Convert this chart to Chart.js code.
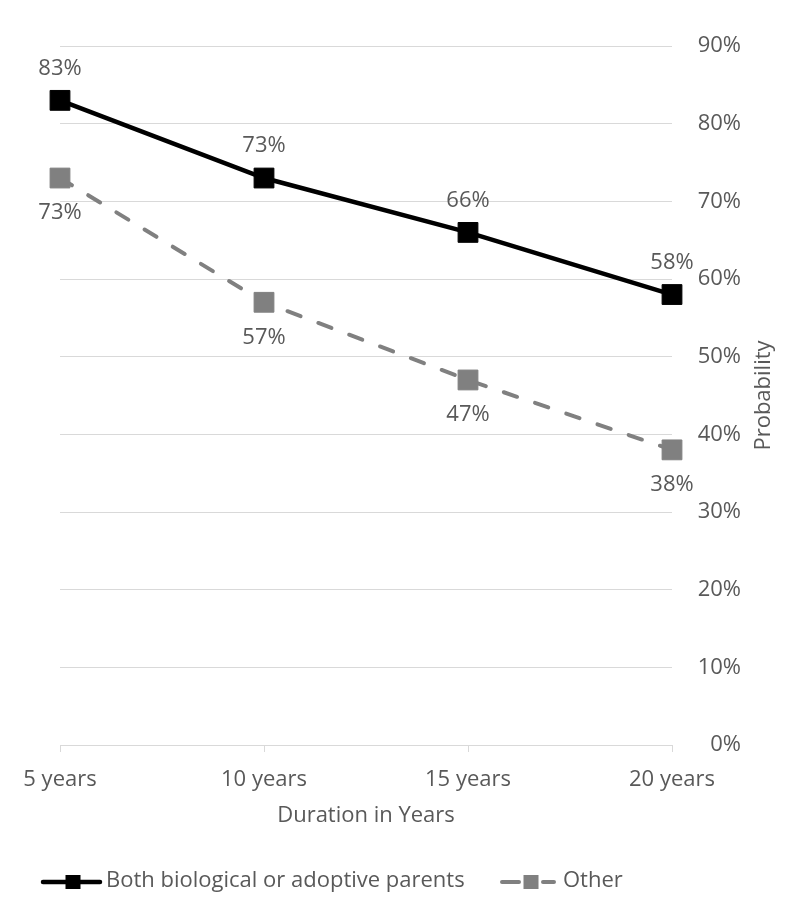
<!DOCTYPE html>
<html>
<head>
<meta charset="utf-8">
<script src="https://cdn.jsdelivr.net/npm/chart.js@4.4.1/dist/chart.umd.min.js"></script>
<style>
  html, body { margin: 0; padding: 0; background: #ffffff; }
  #wrap { width: 804px; height: 901px; }
</style>
</head>
<body>
<div id="wrap"><canvas id="c" width="804" height="901"></canvas></div>
<script>
// ---- data ----
const categories = ["5 years", "10 years", "15 years", "20 years"];
const bothParents = [83, 73, 66, 58];
const otherFamily = [73, 57, 47, 38];
const seriesNames = ["Both biological or adoptive parents", "Other"];
const yTickMax = 90;
const yTickStep = 10;
const xTitle = "Duration in Years";
const yTitle = "Probability";

const TEXT = "#595959";
const GRID = "#d9d9d9";
const FONT = "'Open Sans', 'Liberation Sans', sans-serif";
const FS = 22;

Chart.defaults.font.family = FONT;
Chart.defaults.font.size = FS;
Chart.defaults.color = TEXT;

const dataLabelPlugin = {
  id: 'pointLabels',
  afterDatasetsDraw(chart) {
    const ctx = chart.ctx;
    ctx.save();
    ctx.font = FS + "px " + FONT;
    ctx.fillStyle = TEXT;
    ctx.textAlign = 'center';
    ctx.textBaseline = 'middle';
    chart.data.datasets.forEach((ds, i) => {
      const meta = chart.getDatasetMeta(i);
      meta.data.forEach((pt, j) => {
        const off = ds.labelSide === 'above' ? -32 : 35;
        ctx.fillText(ds.data[j] + '%', pt.x, pt.y + off);
      });
    });
    ctx.restore();
  }
};

const extrasPlugin = {
  id: 'extras',
  afterDraw(chart) {
    const ctx = chart.ctx;
    const area = chart.chartArea;
    ctx.save();
    // rotated y title (bottom-to-top)
    ctx.font = FS + "px " + FONT;
    ctx.fillStyle = TEXT;
    ctx.translate(764, (area.top + area.bottom) / 2);
    ctx.rotate(-Math.PI / 2);
    ctx.textAlign = 'center';
    ctx.textBaseline = 'middle';
    ctx.fillText(yTitle, 0, 0);
    ctx.restore();

    // legend
    const items = [
      { x0: 43, x1: 100, mx: 73, tx: 106 },
      { x0: 502, x1: 554, mx: 531, tx: 563 }
    ];
    const ly = 882;
    chart.data.datasets.forEach((ds, i) => {
      const it = items[i];
      ctx.save();
      ctx.strokeStyle = ds.borderColor;
      ctx.lineWidth = ds.borderWidth;
      ctx.lineCap = 'round';
      ctx.beginPath();
      if (ds.borderDash && ds.borderDash.length) {
        ctx.moveTo(it.x0, ly); ctx.lineTo(it.mx - 12, ly);
        ctx.moveTo(it.mx + 12, ly); ctx.lineTo(it.x1, ly);
      } else {
        ctx.moveTo(it.x0, ly); ctx.lineTo(it.x1, ly);
      }
      ctx.stroke();
      ctx.fillStyle = ds.pointBackgroundColor;
      ctx.fillRect(it.mx - 7.5, ly - 7, 15, 14);
      ctx.font = FS + "px " + FONT;
      ctx.fillStyle = TEXT;
      ctx.textAlign = 'left';
      ctx.textBaseline = 'middle';
      ctx.fillText(seriesNames[i], it.tx, ly - 1);
      ctx.restore();
    });
  }
};

new Chart(document.getElementById('c'), {
  type: 'line',
  data: {
    labels: categories,
    datasets: [
      {
        label: seriesNames[0],
        data: bothParents,
        borderColor: '#000000',
        backgroundColor: '#000000',
        borderWidth: 4.5,
        pointStyle: 'rect',
        pointRadius: 14,
        pointBorderWidth: 1,
        pointBackgroundColor: '#000000',
        pointBorderColor: '#000000',
        tension: 0,
        labelSide: 'above'
      },
      {
        label: seriesNames[1],
        data: otherFamily,
        borderColor: '#808080',
        backgroundColor: '#808080',
        borderWidth: 4,
        borderDash: [14, 19],
        borderCapStyle: 'round',
        pointStyle: 'rect',
        pointRadius: 14,
        pointBorderWidth: 1,
        pointBackgroundColor: '#808080',
        pointBorderColor: '#808080',
        tension: 0,
        labelSide: 'below'
      }
    ]
  },
  options: {
    responsive: false,
    animation: false,
    layout: { padding: { left: 60, right: 63, top: 46, bottom: 56 } },
    plugins: {
      legend: { display: false },
      tooltip: { enabled: false },
      title: { display: false }
    },
    scales: {
      x: {
        offset: false,
        grid: { display: true, drawOnChartArea: false, drawTicks: true, tickLength: 7, color: GRID, lineWidth: 1 },
        border: { display: true, color: GRID, width: 1 },
        ticks: { padding: 15, maxRotation: 0, autoSkip: false, color: TEXT, font: { size: FS } },
        title: { display: true, text: xTitle, color: TEXT, font: { size: FS }, padding: { top: 0, bottom: 16 } },
        afterFit(scale) { scale.height = 100; }
      },
      y: {
        position: 'right',
        min: 0,
        max: yTickMax,
        grid: { color: GRID, lineWidth: 1, drawTicks: false },
        border: { display: false },
        ticks: {
          stepSize: yTickStep,
          padding: 10,
          crossAlign: 'far',
          color: TEXT,
          font: { size: FS },
          callback: (v) => v + '%'
        },
        title: { display: false },
        afterFit(scale) { scale.width = 69; }
      }
    }
  },
  plugins: [dataLabelPlugin, extrasPlugin]
});
</script>
</body>
</html>
